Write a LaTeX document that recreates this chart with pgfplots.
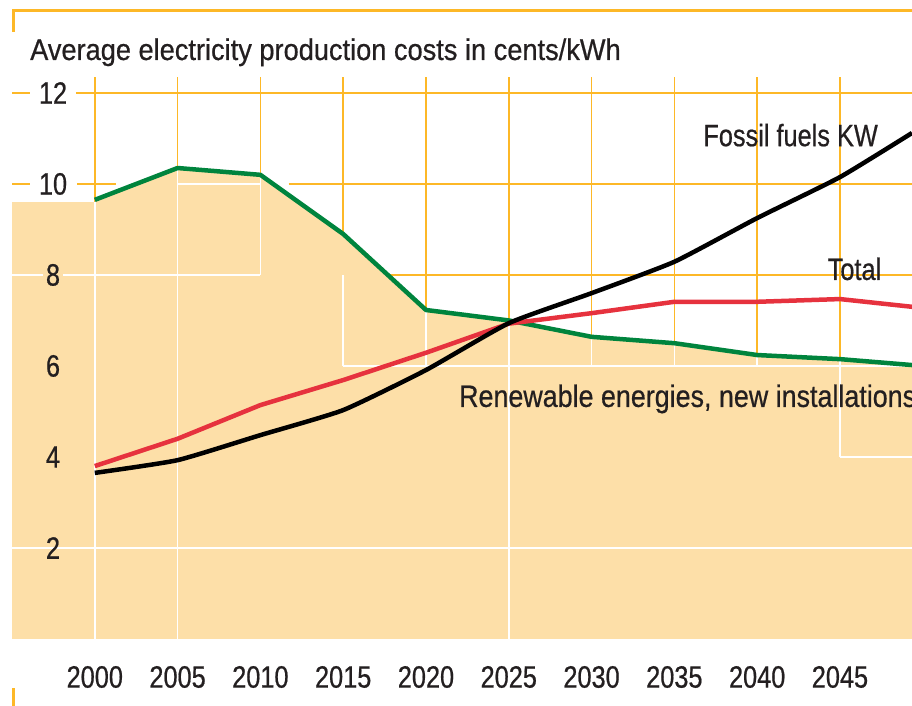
\documentclass[border=0pt]{standalone}
\usepackage{pgfplots}
\pgfplotsset{compat=1.18}
\usepackage{fontspec}
\setmainfont{Liberation Sans}[FakeStretch=0.82, FakeBold=0.6]
\newfontfamily\titlefont{Liberation Sans}[FakeStretch=0.91, FakeBold=0.6]
\newfontfamily\widefont{Liberation Sans}[FakeStretch=0.87, FakeBold=0.6]
\definecolor{gridorange}{HTML}{FDB827}
\definecolor{tanfill}{HTML}{FDDFA8}
\definecolor{lgreen}{HTML}{00843D}
\definecolor{lred}{HTML}{E6323E}
\definecolor{txt}{HTML}{231F20}
\begin{document}
\begin{tikzpicture}
\useasboundingbox (-12bp,-67bp) rectangle (900bp,639bp);
% frame decorations
\draw[gridorange, line width=3bp] (0bp,628bp) -- (900bp,628bp);
\draw[gridorange, line width=3bp] (1.5bp,629.5bp) -- (1.5bp,607bp);
\draw[gridorange, line width=3.5bp] (1.3bp,-49bp) -- (1.3bp,-67bp);
\node[anchor=base west, text=txt, inner sep=0pt] at (18bp,579bp) {\titlefont\fontsize{30}{34}\selectfont Average electricity production costs in cents/kWh};
\begin{axis}[at={(0,0)}, anchor=south west,
  width=900bp, height=562bp, scale only axis,
  xmin=1995, xmax=2049.35, ymin=0, ymax=12.35,
  axis on top,
  axis line style={draw=none}, tick style={draw=none},
  xtick={2000,2005,...,2045}, ytick={2,4,...,12},
  /pgf/number format/assume math mode=true,
  /pgf/number format/1000 sep={},
  xticklabel style={anchor=center, yshift=-38bp, text=txt, font=\fontsize{31}{34}\selectfont},
  yticklabel style={anchor=center, xshift=41bp, text=txt, font=\fontsize{31}{34}\selectfont},
  clip=true]
% orange grid (behind fill)
\pgfplotsinvokeforeach{2000,2005,...,2045}{
  \draw[gridorange, line width=1.5bp] (axis cs:#1,0) -- (axis cs:#1,12.35);
}
\draw[gridorange, line width=1.5bp] (axis cs:1995,12) -- (axis cs:1996.07,12);
\draw[gridorange, line width=1.5bp] (axis cs:1998.85,12) -- (axis cs:2049.35,12);
\draw[gridorange, line width=1.5bp] (axis cs:1995,10) -- (axis cs:1996.07,10);
\draw[gridorange, line width=1.5bp] (axis cs:1998.95,10) -- (axis cs:2001.3,10);
\draw[gridorange, line width=1.5bp] (axis cs:2011.7,10) -- (axis cs:2049.35,10);
\draw[gridorange, line width=1.5bp] (axis cs:2015,8) -- (axis cs:2049.35,8);
% filled area
\addplot[fill=tanfill, draw=none] coordinates {
  (1995,9.6) (2000,9.6) (2000,9.65) (2005,10.35) (2010,10.2) (2015,8.9)
  (2020,7.23) (2025,7.0) (2030,6.64) (2035,6.5) (2040,6.24) (2045,6.15) (2049.35,6.02)
} \closedcycle;
% white grid inside fill
\draw[white, line width=1.5bp] (axis cs:1995,2) -- (axis cs:2049.35,2);
\draw[white, line width=1.5bp] (axis cs:2045,4) -- (axis cs:2049.35,4);
\draw[white, line width=1.5bp] (axis cs:2015,6) -- (axis cs:2049.35,6);
\draw[white, line width=1.5bp] (axis cs:1995,8) -- (axis cs:1996.86,8);
\draw[white, line width=1.5bp] (axis cs:1998.07,8) -- (axis cs:2010,8);
\draw[white, line width=1.5bp] (axis cs:2005,10) -- (axis cs:2010,10);
\draw[white, line width=1.5bp] (axis cs:2000,0) -- (axis cs:2000,9.6);
\draw[white, line width=1.5bp] (axis cs:2005,0) -- (axis cs:2005,10.3);
\draw[white, line width=1.5bp] (axis cs:2010,8) -- (axis cs:2010,10.15);
\draw[white, line width=1.5bp] (axis cs:2015,6) -- (axis cs:2015,8);
\draw[white, line width=1.5bp] (axis cs:2020,6) -- (axis cs:2020,7.2);
\draw[white, line width=1.5bp] (axis cs:2025,0) -- (axis cs:2025,6.95);
\draw[white, line width=1.5bp] (axis cs:2030,6) -- (axis cs:2030,6.6);
\draw[white, line width=1.5bp] (axis cs:2035,6) -- (axis cs:2035,6.45);
\draw[white, line width=1.5bp] (axis cs:2040,6) -- (axis cs:2040,6.2);
\draw[white, line width=1.5bp] (axis cs:2045,4) -- (axis cs:2045,6.1);
% curves
\addplot[lgreen, line width=4.5bp, line join=round] coordinates {
  (2000,9.65) (2005,10.35) (2010,10.2) (2015,8.9) (2020,7.23) (2025,7.0)
  (2030,6.64) (2035,6.5) (2040,6.24) (2045,6.15) (2049.35,6.02)
};
\addplot[lred, line width=4.5bp, line join=round] coordinates {
  (2000,3.8) (2005,4.4) (2010,5.14) (2015,5.69) (2020,6.29) (2025,6.93)
  (2030,7.16) (2035,7.41) (2040,7.41) (2045,7.47) (2049.35,7.3)
};
\addplot[black, line width=4.5bp, line join=round, smooth, tension=0.3] coordinates {
  (2000,3.65) (2005,3.93) (2010,4.48) (2015,5.03) (2020,5.91) (2025,6.94)
  (2030,7.6) (2035,8.29) (2040,9.25) (2045,10.15) (2049.35,11.12)
};
% annotations
\node[anchor=base east, text=txt, inner sep=0pt, font=\fontsize{31}{34}\selectfont] at (axis cs:2047.3,10.83) {Fossil fuels KW};
\node[anchor=base east, text=txt, inner sep=0pt, font=\fontsize{31}{34}\selectfont] at (axis cs:2047.5,7.89) {Total};
\node[anchor=base west, text=txt, inner sep=0pt, font=\widefont\fontsize{31}{34}\selectfont] at (axis cs:2021.99,5.1) {Renewable energies, new installations};
\end{axis}
\end{tikzpicture}
\end{document}
